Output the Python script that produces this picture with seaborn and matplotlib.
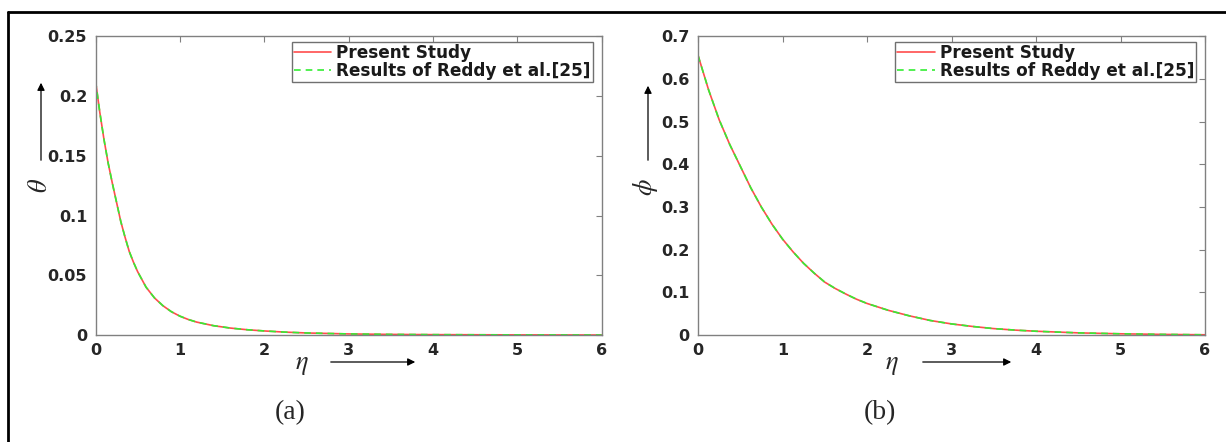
import matplotlib
matplotlib.use("Agg")
import matplotlib.pyplot as plt
import matplotlib.ticker as mticker
from matplotlib.lines import Line2D
import seaborn as sns

# --- données ---
eta_a = [0, 0.05, 0.1, 0.15, 0.2, 0.25, 0.3, 0.35, 0.4, 0.45, 0.5, 0.6, 0.7, 0.8,
         0.9, 1.0, 1.1, 1.2, 1.4, 1.6, 1.8, 2.0, 2.25, 2.5, 3.0, 3.5, 4.0, 4.5,
         5.0, 5.5, 6.0]
theta_present = [0.213, 0.187, 0.164, 0.144, 0.127, 0.111, 0.095, 0.082, 0.070, 0.061,
                 0.053, 0.040, 0.031, 0.0245, 0.0195, 0.0158, 0.013, 0.0108, 0.0078,
                 0.0058, 0.0044, 0.0034, 0.0024, 0.0017, 0.0009, 0.0005, 0.0003,
                 0.0002, 0.0001, 0.00005, 0.0]
theta_reddy = [0.213, 0.187, 0.164, 0.144, 0.127, 0.111, 0.095, 0.082, 0.070, 0.061,
               0.053, 0.040, 0.031, 0.0245, 0.0195, 0.0158, 0.013, 0.0108, 0.0078,
               0.0058, 0.0044, 0.0034, 0.0024, 0.0017, 0.0009, 0.0005, 0.0003,
               0.0002, 0.0001, 0.00005, 0.0]

eta_b = [0, 0.125, 0.25, 0.375, 0.5, 0.625, 0.75, 0.875, 1.0, 1.125, 1.25, 1.375,
         1.5, 1.625, 1.75, 1.875, 2.0, 2.25, 2.5, 2.75, 3.0, 3.25, 3.5, 3.75, 4.0,
         4.5, 5.0, 5.5, 6.0]
phi_present = [0.656, 0.575, 0.505, 0.447, 0.396, 0.345, 0.300, 0.260, 0.225, 0.195,
               0.168, 0.145, 0.124, 0.109, 0.096, 0.084, 0.074, 0.058, 0.045, 0.034,
               0.026, 0.020, 0.015, 0.0115, 0.0088, 0.005, 0.0028, 0.0014, 0.0005]
phi_reddy = [0.656, 0.575, 0.505, 0.447, 0.396, 0.345, 0.300, 0.260, 0.225, 0.195,
             0.168, 0.145, 0.124, 0.109, 0.096, 0.084, 0.074, 0.058, 0.045, 0.034,
             0.026, 0.020, 0.015, 0.0115, 0.0088, 0.005, 0.0028, 0.0014, 0.0005]

labels = ["Present Study", "Results of Reddy et al.[25]"]
yticks_a = [0, 0.05, 0.1, 0.15, 0.2, 0.25]
yticks_b = [0, 0.1, 0.2, 0.3, 0.4, 0.5, 0.6, 0.7]
xticks = [0, 1, 2, 3, 4, 5, 6]

sns.set_theme(style="white")
plt.rcParams['font.family'] = ['DejaVu Sans']
plt.rcParams['mathtext.fontset'] = 'stix'

W, H = 1226, 442
fig = plt.figure(figsize=(W / 100, H / 100), dpi=100)

def px_axes(x0, y0, x1, y1):
    # coordonnées en pixels image (y vers le bas)
    return fig.add_axes([x0 / W, (H - y1) / H, (x1 - x0) / W, (y1 - y0) / H])

ax1 = px_axes(95.5, 36.5, 601.5, 335)
ax2 = px_axes(698, 36.5, 1205, 335)

red = '#ff4d4d'
green = '#33ee33'

for ax, x, y1, y2, yt in [(ax1, eta_a, theta_present, theta_reddy, yticks_a),
                          (ax2, eta_b, phi_present, phi_reddy, yticks_b)]:
    sns.lineplot(x=x, y=y1, ax=ax, color=red, lw=1.2, label=labels[0])
    sns.lineplot(x=x, y=y2, ax=ax, color=green, lw=1.2, linestyle='--',
                 dashes=False, label=labels[1])
    ax.lines[1].set_dashes([4, 3])
    ax.set_xlim(0, 6)
    ax.set_ylim(yt[0], yt[-1])
    ax.set_xticks(xticks)
    ax.set_yticks(yt)
    ax.yaxis.set_major_formatter(mticker.FormatStrFormatter('%g'))
    ax.tick_params(direction='in', length=4, width=0.8, top=True, right=True,
                   color='#808080', labelsize=11.5, labelcolor='#262626', pad=6)
    for lab in ax.get_xticklabels() + ax.get_yticklabels():
        lab.set_fontweight('bold')
    for s in ax.spines.values():
        s.set_color('#808080')
        s.set_linewidth(1.0)
    ax.set_xlabel('')
    ax.set_ylabel('')
    leg = ax.legend(loc='upper right', bbox_to_anchor=(0.983, 0.983), borderaxespad=0,
                    prop={'size': 12.2, 'weight': 'bold'}, fancybox=False, framealpha=1,
                    edgecolor='#707070', handlelength=2.2, handletextpad=0.3,
                    labelspacing=0.0, borderpad=0.12)
    leg.get_frame().set_linewidth(1.0)
    for t in leg.get_texts():
        t.set_color('#1a1a1a')

# étiquettes d'axes et flèches (style MATLAB)
def fpx(x, y):
    return (x, H - y)

arrow = dict(arrowstyle='-|>', color='black', lw=0.9, mutation_scale=11)
for txt, (x, y), rot in [(r'$\theta$', (40, 185), 90), (r'$\phi$', (646, 187), 90),
                         (r'$\eta$', (302, 364), 0), (r'$\eta$', (892, 364), 0)]:
    fig.text(x / W, (H - y) / H, txt, rotation=rot, fontsize=19,
             ha='center', va='center')
for (xa, ya), (xb, yb) in [((41, 163), (41, 80)), ((648, 163), (648, 83)),
                           ((328, 362), (418, 362)), ((920, 362), (1014, 362))]:
    ax1.annotate('', xy=fpx(xb, yb), xytext=fpx(xa, ya), xycoords='figure pixels',
                 textcoords='figure pixels', arrowprops=arrow)

fig.text(290 / W, (H - 413) / H, '(a)', family='Liberation Serif',
         fontsize=20, ha='center', va='center')
fig.text(880 / W, (H - 413) / H, '(b)', family='Liberation Serif',
         fontsize=20, ha='center', va='center')

# cadre extérieur
fig.add_artist(Line2D([8 / W, 1], [(H - 12) / H, (H - 12) / H], transform=fig.transFigure,
                      color='black', lw=2))
fig.add_artist(Line2D([8 / W, 8 / W], [(H - 12) / H, 0], transform=fig.transFigure,
                      color='black', lw=2))

fig.savefig('out.png', dpi=100, facecolor='white')
